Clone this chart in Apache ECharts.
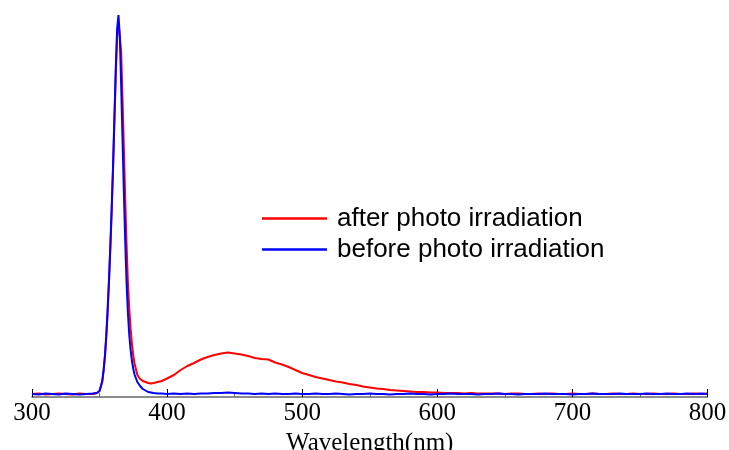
<!DOCTYPE html>
<html>
<head>
<meta charset="utf-8">
<title>Wavelength spectrum</title>
<script src="https://cdn.jsdelivr.net/npm/echarts@6/dist/echarts.min.js"></script>
<style>
  html, body { margin: 0; padding: 0; background: #fff; }
  #main { width: 729px; height: 450px; }
</style>
</head>
<body>
<div id="main"></div>
<script>
// 波长 (nm)
var wavelengths = [300, 305, 310, 315, 320, 325, 330, 335, 340, 345, 348, 350, 352, 353, 354, 355, 356, 357, 358, 359,
  360, 361, 362, 363, 364, 365, 366, 367, 368, 369, 370, 371, 372, 373, 374, 375, 376, 378, 380, 382,
  384, 386, 388, 390, 393, 396, 400, 405, 410, 415, 420, 425, 430, 435, 440, 445, 450, 455, 460, 465,
  470, 475, 480, 485, 490, 495, 500, 505, 510, 515, 520, 525, 530, 535, 540, 545, 550, 555, 560, 565,
  570, 575, 580, 585, 590, 595, 600, 605, 610, 615, 620, 625, 630, 635, 640, 645, 650, 655, 660, 665,
  670, 675, 680, 685, 690, 695, 700, 705, 710, 715, 720, 725, 730, 735, 740, 745, 750, 755, 760, 765,
  770, 775, 780, 785, 790, 795, 800];

// 光照后 (a.u.)
var afterValues = [3, 3.5, 2.5, 3, 3.5, 3, 2.5, 3.5, 3, 3, 4, 6, 15, 26, 40, 60, 85, 115, 148, 186,
  228, 275, 322, 360, 376, 378, 345, 298, 248, 198, 152, 114, 88, 68, 53, 41, 33, 22, 18, 16,
  15, 14, 13.5, 14, 15, 16, 18.5, 22, 27, 31, 34, 37.5, 40, 42, 43.5, 44.5, 43.5, 42.5, 41, 39,
  38, 37.5, 34.5, 32.5, 30, 27, 24, 22, 20, 18.5, 17, 15.5, 14.5, 13, 12, 10.5, 9.5, 8.5, 8, 7,
  6.5, 6, 5.5, 5, 5, 4.5, 4.5, 4, 4, 4, 3.5, 4, 3.5, 3.5, 3.5, 3.5, 3, 3.5, 3.5, 3,
  3, 3.5, 3, 3.5, 3, 3, 3.5, 3, 3, 3.5, 3, 3, 3.5, 3, 3, 3.5, 3, 3, 3.5, 3,
  3, 3.5, 3, 3, 3.5, 3, 3.5];

// 光照前 (a.u.)
var beforeValues = [3, 2.5, 3.5, 3, 2.5, 3.5, 3, 2.5, 3, 3.5, 4, 6, 16, 27, 42, 62, 88, 118, 152, 190,
  232, 280, 328, 368, 382, 360, 312, 258, 205, 156, 114, 84, 62, 47, 36, 28, 22, 15, 11, 8,
  6.5, 5, 4.5, 4, 3.5, 3.5, 3, 3.5, 3, 3.5, 3, 3.5, 3.5, 4, 4, 4.5, 4, 3.5, 3.5, 3,
  3.5, 3, 3.5, 3, 3, 3.5, 3, 3, 3.5, 3, 3, 3.5, 3, 2.5, 3, 3, 3.5, 3, 3, 2.5,
  3, 3, 3.5, 3, 3, 2.5, 3, 3, 3.5, 3, 3, 3, 2.5, 3, 3, 3.5, 3, 3, 2.5, 3,
  3, 3, 3.5, 3, 3, 3, 2.5, 3, 3, 3.5, 3, 3, 3, 3.5, 3, 3, 3, 3.5, 3, 3,
  3.5, 3, 3, 3.5, 3, 3.5, 3];

var seriesNames = ['after photo irradiation', 'before photo irradiation'];
var xTicks = { min: 300, max: 800, interval: 100 };

function toPairs(xs, ys) {
  var arr = [];
  xs.forEach(function(x, i) {
    arr.push([x, ys[i]]);
  });
  return arr;
}

var myChart = echarts.init(document.getElementById('main'));

var option = {
  backgroundColor: '#fff',
  animation: false,
  grid: { left: 32, right: 21.5, top: 15, bottom: 53, outerBoundsMode: 'none', containLabel: false },
  legend: {
    orient: 'vertical',
    left: 257,
    top: 200.5,
    itemWidth: 65,
    itemHeight: 2.5,
    itemGap: 5,
    icon: 'rect',
    data: seriesNames,
    textStyle: {
      fontFamily: '"Liberation Sans", Arial, sans-serif',
      fontSize: 26,
      lineHeight: 26,
      color: '#000',
      padding: [0, 0, 0, 5]
    }
  },
  xAxis: {
    type: 'value',
    min: xTicks.min,
    max: xTicks.max,
    interval: xTicks.interval,
    name: 'Wavelength(nm)',
    nameLocation: 'middle',
    nameGap: 20,
    nameTextStyle: {
      fontFamily: '"Liberation Serif", "Times New Roman", serif',
      fontSize: 25,
      color: '#000'
    },
    axisLine: { lineStyle: { color: '#666', width: 1.5 } },
    axisTick: { inside: true, length: 8, lineStyle: { color: '#000', width: 1 } },
    minorTick: { show: true, splitNumber: 2, length: 4, lineStyle: { color: '#666', width: 1 } },
    axisLabel: {
      margin: 4,
      fontFamily: '"Liberation Serif", "Times New Roman", serif',
      fontSize: 25,
      color: '#000'
    },
    splitLine: { show: false }
  },
  yAxis: {
    type: 'value',
    min: 0,
    max: 382,
    show: false
  },
  series: [
    {
      name: seriesNames[0],
      type: 'line',
      showSymbol: false,
      color: '#ff0000',
      lineStyle: { color: '#ff0000', width: 2 },
      data: toPairs(wavelengths, afterValues)
    },
    {
      name: seriesNames[1],
      type: 'line',
      showSymbol: false,
      color: '#0000ff',
      lineStyle: { color: '#0000ff', width: 2 },
      data: toPairs(wavelengths, beforeValues)
    }
  ]
};

myChart.setOption(option);
</script>
</body>
</html>
